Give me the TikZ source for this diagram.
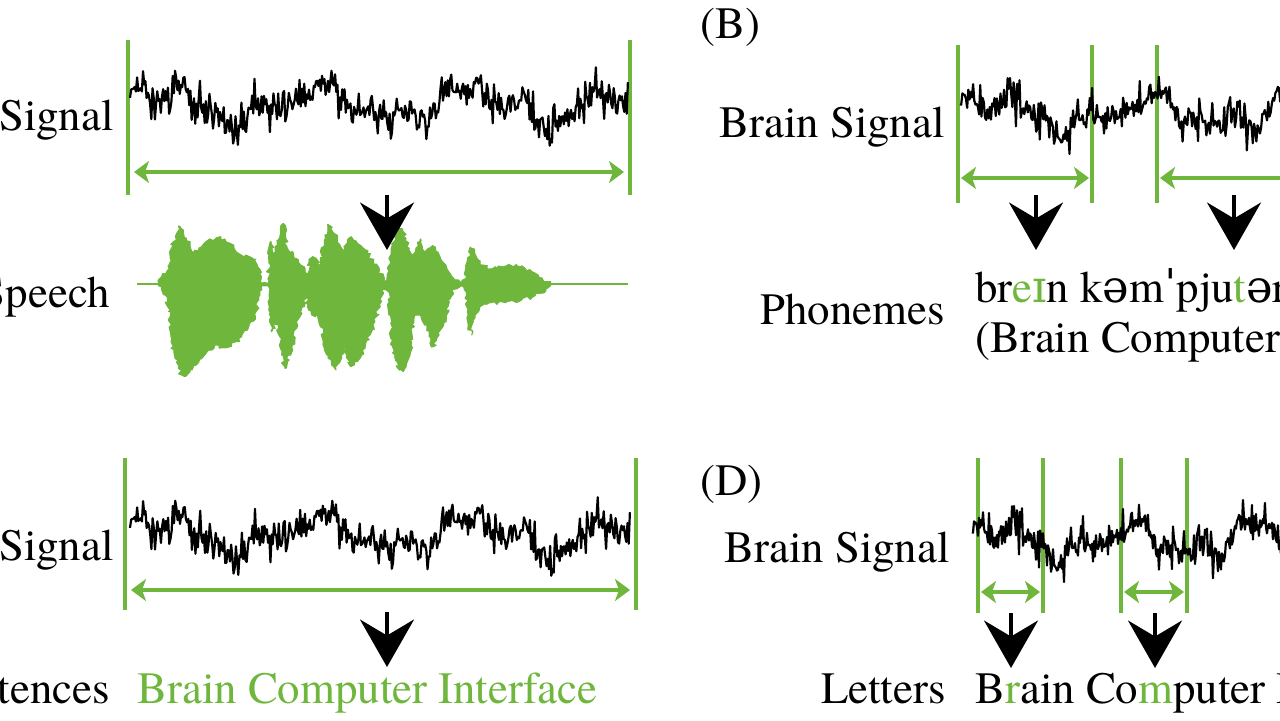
\documentclass[tikz,border=0pt]{standalone}
\usepackage{fontspec}
\setmainfont{TeX Gyre Termes}
\newfontfamily\ipafont{DejaVu Serif}
\usetikzlibrary{arrows.meta,decorations.pathmorphing}
\definecolor{bcigreen}{RGB}{110,182,60}
\tikzset{
    lbl/.style={inner sep=0pt, font=\fontsize{25.5}{30}\selectfont},
    marker/.style={bcigreen, line width=2.3pt},
    span/.style={bcigreen, line width=1.9pt, {Stealth[length=0.3cm,width=0.44cm,inset=0.08cm]}-{Stealth[length=0.3cm,width=0.44cm,inset=0.08cm]}},
    down/.style={black, line width=1.8pt, -{Stealth[length=0.95cm,width=1.08cm,inset=0.32cm]}},
    sig/.style={black, line width=1.25pt, line join=round},
    speech/.style={fill=bcigreen, draw=bcigreen, line width=0.6pt, line join=round,
        decorate, decoration={random steps, segment length=1.6pt, amplitude=1.3pt}},
}
% noisy brain signal: start x, width, centre y, seed
\newcommand{\eegtrace}[4]{%
    \pgfmathsetseed{#4}
    \draw[sig] plot[domain=0:1, samples=420, variable=\t]
        ({#1+#2*\t}, {#3 - 14*sin(1150*\t+20) - 7*sin(2700*\t+110) - 5*sin(4700*\t) - 9*rand - 24*rand*rand});
}

\begin{document}
\begin{tikzpicture}[x=0.02cm, y=-0.02cm]
    \useasboundingbox (0,0) rectangle (1280,720);
    \clip (0,0) rectangle (1280,720);

    % (A) signal -> speech
    \foreach \x in {128,630} {\draw[marker] (\x,40) -- (\x,195);}
    \eegtrace{130}{498}{105}{7}
    \coordinate (aS) at (134,172);
    \coordinate (aE) at (624,172);
    \draw[span] (aS) -- (aE);
    \node[lbl, anchor=base east] (aSig) at (114,130) {Signal};

    \coordinate (spL) at (137,284);
    \coordinate (spR) at (628,284);
    \draw[bcigreen, line width=1.7pt] (spL) -- (spR);
    \pgfmathsetseed{3}
    \begin{scope}[shift={(130,215)}, scale=1/3]
        \fill[speech] (85,200) -- (95,185) -- (110,170) -- (120,120) -- (130,80) -- (140,55) -- (150,35) -- (160,45) -- (170,70) -- (180,95) -- (192,112) -- (205,108) -- (215,95) -- (228,80) -- (240,72) -- (260,68) -- (285,72) -- (300,85) -- (312,100) -- (325,115) -- (345,122) -- (365,128) -- (378,132) -- (388,160) -- (394,205)
            -- (415,205) -- (418,120) -- (423,80) -- (428,115) -- (435,95) -- (442,90) -- (452,50) -- (460,25) -- (466,60) -- (472,100) -- (485,110) -- (498,130) -- (512,150) -- (525,170) -- (532,180) -- (538,140) -- (548,125) -- (558,130) -- (566,150) -- (575,120) -- (585,60) -- (593,28) -- (602,40) -- (612,55) -- (622,70) -- (632,95) -- (643,110) -- (652,75) -- (664,65) -- (678,78) -- (695,95) -- (712,115) -- (730,140) -- (748,168) -- (762,198)
            -- (772,180) -- (782,120) -- (795,55) -- (808,40) -- (818,48) -- (828,70) -- (838,100) -- (850,118) -- (862,82) -- (872,72) -- (882,110) -- (895,100) -- (908,92) -- (918,110) -- (932,130) -- (948,150) -- (960,175) -- (975,195) -- (995,205)
            -- (1008,190) -- (1016,110) -- (1024,100) -- (1036,118) -- (1050,145) -- (1070,158) -- (1100,160) -- (1130,152) -- (1160,152) -- (1185,160) -- (1208,172) -- (1228,188) -- (1248,200) -- (1262,205)
            -- (1262,212) -- (1248,222) -- (1228,235) -- (1205,248) -- (1175,255) -- (1140,258) -- (1105,262) -- (1075,265) -- (1050,275) -- (1035,300) -- (1025,360) -- (1015,330) -- (1008,230) -- (995,212)
            -- (975,222) -- (962,250) -- (950,300) -- (935,340) -- (920,375) -- (910,395) -- (900,385) -- (888,330) -- (878,320) -- (866,300) -- (852,310) -- (840,420) -- (830,445) -- (820,470) -- (808,465) -- (795,420) -- (785,380) -- (775,230)
            -- (762,215) -- (748,270) -- (735,320) -- (720,360) -- (705,400) -- (690,430) -- (675,440) -- (662,455) -- (650,420) -- (640,400) -- (630,440) -- (618,465) -- (605,450) -- (592,420) -- (580,380) -- (568,300) -- (556,305) -- (545,300) -- (535,270) -- (525,240) -- (512,290) -- (500,340) -- (487,390) -- (475,420) -- (465,460) -- (455,420) -- (445,330) -- (435,320) -- (425,350) -- (418,230) -- (415,212)
            -- (394,212) -- (386,250) -- (378,290) -- (368,320) -- (352,345) -- (335,365) -- (318,380) -- (300,395) -- (282,398) -- (262,390) -- (245,405) -- (228,415) -- (210,432) -- (192,450) -- (178,465) -- (165,485) -- (155,480) -- (145,460) -- (135,430) -- (125,370) -- (115,290) -- (105,240) -- (95,225) -- (85,212) -- cycle;
    \end{scope}
    \coordinate (aTop) at (387,195);
    \coordinate (aTip) at (387,250);
    \draw[down] (aTop) -- (aTip);
    \node[lbl, anchor=base east] (speech) at (110,307) {Speech};

    % (C) signal -> sentences
    \foreach \x in {125,636} {\draw[marker] (\x,458) -- (\x,610);}
    \eegtrace{130}{500}{535}{7}
    \coordinate (cS) at (131,590);
    \coordinate (cE) at (630,590);
    \draw[span] (cS) -- (cE);
    \node[lbl, anchor=base east] (cSig) at (114,560) {Signal};
    \coordinate (cTop) at (387,612);
    \coordinate (cTip) at (387,667);
    \draw[down] (cTop) -- (cTip);
    \node[lbl, anchor=base east] (sent) at (110,703) {Sentences};
    \node[lbl, anchor=base west, text=bcigreen] (sentTxt) at (137,703) {Brain Computer Interface};

    % (B) signal -> phonemes
    \node[lbl, anchor=base west] (labB) at (700,38) {(B)};
    \node[lbl, anchor=base east] (bSig) at (945,137) {Brain Signal};
    \foreach \x in {958,1092,1157} {\draw[marker] (\x,45) -- (\x,203);}
    \eegtrace{960}{500}{112}{11}
    \coordinate (b1S) at (961,178);
    \coordinate (b1E) at (1089,178);
    \coordinate (b2S) at (1160,178);
    \coordinate (b2E) at (1300,178);
    \draw[span] (b1S) -- (b1E);
    \draw[span] (b2S) -- (b2E);
    \foreach \x/\n in {1036/1, 1234/2} {
        \coordinate (bTop\n) at (\x,195);
        \coordinate (bTip\n) at (\x,250);
        \draw[down] (bTop\n) -- (bTip\n);
    }
    \node[lbl, anchor=base east] (phon) at (945,324) {Phonemes};
    \node[lbl, anchor=base west] (ipa) at (975,302) {br{\color{bcigreen}e{\ipafont ɪ}}n k{\ipafont ə}m{\ipafont ˈ}pju{\color{bcigreen}t}{\ipafont ə}r {\ipafont ˈɪ}nt{\ipafont ə}rfe{\ipafont ɪ}s};
    \node[lbl, anchor=base west] (ipaTxt) at (975,352) {(Brain Computer Interface)};

    % (D) signal -> letters
    \node[lbl, anchor=base west] (labD) at (700,495) {(D)};
    \node[lbl, anchor=base east] (dSig) at (950,562) {Brain Signal};
    \foreach \x in {978,1043,1121,1187} {\draw[marker] (\x,458) -- (\x,613);}
    \eegtrace{972}{420}{540}{11}
    \coordinate (d1S) at (981,592);
    \coordinate (d1E) at (1040,592);
    \coordinate (d2S) at (1124,592);
    \coordinate (d2E) at (1184,592);
    \draw[span] (d1S) -- (d1E);
    \draw[span] (d2S) -- (d2E);
    \foreach \x/\n in {1011/1, 1155/2} {
        \coordinate (dTop\n) at (\x,613);
        \coordinate (dTip\n) at (\x,668);
        \draw[down] (dTop\n) -- (dTip\n);
    }
    \node[lbl, anchor=base east] (lett) at (946,703) {Letters};
    \node[lbl, anchor=base west] (lettTxt) at (975,703) {B{\color{bcigreen}r}ain Co{\color{bcigreen}m}puter Interface};
\end{tikzpicture}
\end{document}
